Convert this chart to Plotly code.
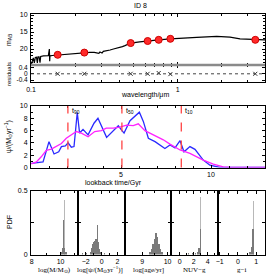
import plotly.graph_objects as go

# ---------------- data ----------------
phot_wl = [0.152, 0.231, 0.478, 0.624, 0.742, 0.891, 3.38]
phot_mag = [21.7, 21.05, 18.25, 17.65, 17.3, 17.0, 17.3]
resid = [0.0, 0.0, 0.0, 0.0, 0.05, -0.02, 0.0]

model_wl = [0.1005, 0.1021, 0.1037, 0.1054, 0.1070, 0.1090, 0.1105, 0.1116, 0.1135, 0.1152,
            0.1164, 0.1214, 0.1260, 0.1313, 0.1334, 0.1341, 0.1347, 0.1400, 0.152, 0.175,
            0.200, 0.231, 0.252, 0.270, 0.280, 0.290, 0.295, 0.305, 0.311, 0.325,
            0.346, 0.365, 0.384, 0.400, 0.420, 0.437, 0.450, 0.478, 0.55, 0.624,
            0.742, 0.891, 1.037, 1.348, 1.844, 2.273, 2.66, 3.36, 3.94]
model_mag = [24.6, 23.1, 22.6, 24.1, 22.5, 22.4, 24.1, 22.3, 22.3, 24.0,
             22.2, 22.0, 22.0, 21.95, 20.0, 23.6, 22.0, 21.9, 21.75, 21.5,
             21.3, 21.0, 21.0, 21.0, 21.2, 21.3, 20.9, 21.2, 20.7, 20.6,
             20.3, 20.0, 19.8, 19.5, 19.3, 19.0, 18.7, 18.25, 17.9, 17.6,
             17.3, 17.0, 16.8, 16.6, 16.3, 16.5, 17.0, 17.3, 17.3]

sfh_t = [0.02, 0.67, 1.0, 1.28, 1.54, 1.69, 1.91, 2.06, 2.24, 2.39, 2.57, 2.7, 2.89, 3.17,
         3.5, 3.72, 4.2, 4.67, 4.85, 5.0, 5.17, 5.5, 6.02, 6.24, 6.52, 6.89, 7.44, 7.72,
         8.0, 8.28, 8.5, 8.83, 9.11, 9.57, 9.94, 10.5, 11.06, 13.0]
sfh_true = [0.66, 0.92, 4.2, 2.2, 2.56, 3.4, 3.5, 4.0, 3.3, 3.4, 8.95, 5.6, 6.2, 5.3,
            7.2, 8.0, 4.9, 6.4, 6.8, 6.2, 5.6, 7.6, 9.0, 7.5, 4.75, 4.2, 3.1, 3.65,
            3.2, 4.36, 2.56, 3.4, 2.95, 1.2, 0.38, 0.0, 0.0, 0.0]
fit_t = [0.02, 0.3, 0.57, 0.85, 1.13, 1.41, 1.69, 1.96, 2.24, 2.52, 2.8, 3.17, 3.54, 3.91,
         4.18, 4.57, 4.94, 5.31, 5.68, 5.96, 6.33, 6.8, 7.35, 7.72, 8.28, 8.83, 9.57,
         10.13, 10.68, 11.06, 13.0]
sfh_fit = [0.6, 0.9, 1.74, 2.8, 3.0, 3.4, 3.9, 4.75, 5.3, 5.85, 5.6, 5.0, 5.85, 6.0,
           6.4, 6.4, 6.56, 6.9, 6.8, 7.1, 6.0, 5.3, 4.5, 3.8, 2.85, 2.3, 1.2,
           0.54, 0.1, 0.0, 0.0]
t_marks = [2.05, 5.05, 8.35]
t_names = ["t<sub>90</sub>", "t<sub>50</sub>", "t<sub>10</sub>"]

mass_bins = [10.1, 10.17, 10.24, 10.31, 10.38]
mass_pdf = [0.02, 0.05, 0.27, 0.05, 0.02]
mass_peak_x, mass_peak_y = [10.3], [0.43]

sfr_bins = [-2.4, -1.9, -1.45, -1.3, -1.15, -1.0, -0.85, -0.7, -0.55, -0.4, -0.25, -0.1, 0.4]
sfr_pdf = [0.01, 0.01, 0.02, 0.05, 0.08, 0.1, 0.11, 0.12, 0.23, 0.1, 0.04, 0.02, 0.01]

age_bins = [9.3, 9.36, 9.42, 9.48, 9.54, 9.6, 9.66, 9.72, 9.78]
age_pdf = [0.02, 0.04, 0.08, 0.12, 0.17, 0.14, 0.08, 0.04, 0.02]

nuvg_bins = [1.3, 1.8, 2.2, 2.55, 2.75, 2.9]
nuvg_pdf = [0.01, 0.01, 0.01, 0.02, 0.05, 0.2]
nuvg_peak_x, nuvg_peak_y = [3.0], [0.45]

gi_bins = [0.66, 0.74, 0.82]
gi_pdf = [0.02, 0.06, 0.2]
gi_peak_x, gi_peak_y = [0.87], [0.42]

# ---------------- layout helpers ----------------
W, H = 266, 274
def fx(x): return x / W
def fy(y): return 1 - y / H

TF = dict(size=7, family="Liberation Sans", color="black")
def axis(domain, anchor, **kw):
    d = dict(domain=domain, anchor=anchor, showline=True, linecolor="black", linewidth=1,
             mirror="allticks", ticks="inside", ticklen=3, tickwidth=1, tickcolor="black",
             showgrid=False, zeroline=False, tickfont=TF, fixedrange=True, automargin=False,
             ticklabelstandoff=1)
    d.update(kw)
    return d

XD = [fx(31), fx(265)]
fig = go.Figure()

# SED
fig.add_trace(go.Scatter(x=model_wl, y=model_mag, mode="lines", line=dict(color="black", width=1.2),
                         xaxis="x", yaxis="y", showlegend=False, hoverinfo="skip"))
fig.add_trace(go.Scatter(x=phot_wl, y=phot_mag, mode="markers",
                         marker=dict(color="#ff2a2a", size=7, line=dict(color="#d00000", width=1)),
                         xaxis="x", yaxis="y", showlegend=False, hoverinfo="skip"))
fig.add_trace(go.Scatter(x=phot_wl, y=resid, mode="markers",
                         marker=dict(symbol="x-thin-open", size=4, color="#333333",
                                     line=dict(color="#333333", width=1)),
                         xaxis="x2", yaxis="y2", showlegend=False, hoverinfo="skip"))

# SFH
fig.add_trace(go.Scatter(x=sfh_t, y=sfh_true, mode="lines", line=dict(color="#2a2aff", width=1.3),
                         xaxis="x3", yaxis="y3", showlegend=False, hoverinfo="skip"))
fig.add_trace(go.Scatter(x=fit_t, y=sfh_fit, mode="lines", line=dict(color="#ff22ff", width=1.3),
                         xaxis="x3", yaxis="y3", showlegend=False, hoverinfo="skip"))

# PDFs
hists = [(mass_bins, mass_pdf, 0.07, mass_peak_x, mass_peak_y),
         (sfr_bins, sfr_pdf, 0.15, [], []),
         (age_bins, age_pdf, 0.06, [], []),
         (nuvg_bins, nuvg_pdf, 0.15, nuvg_peak_x, nuvg_peak_y),
         (gi_bins, gi_pdf, 0.07, gi_peak_x, gi_peak_y)]
for i, (bx, by, w, pxs, pys) in enumerate(hists):
    n = i + 4
    if pxs:
        fig.add_trace(go.Bar(x=pxs, y=pys, width=w * 0.8, marker=dict(color="#b8b8b8", line=dict(width=0)),
                             xaxis=f"x{n}", yaxis=f"y{n}", showlegend=False, hoverinfo="skip"))
    fig.add_trace(go.Bar(x=bx, y=by, width=w, marker=dict(color="#7a7a7a", line=dict(width=0)),
                         xaxis=f"x{n}", yaxis=f"y{n}", showlegend=False, hoverinfo="skip"))

lay = dict(template="none", width=W, height=H, margin=dict(l=0, r=0, t=0, b=0, pad=0),
           plot_bgcolor="white", paper_bgcolor="white", barmode="overlay", bargap=0,
           showlegend=False)

minor_log = dict(tickvals=[0.2, 0.3, 0.4, 0.5, 0.6, 0.7, 0.8, 0.9, 2, 3], ticks="inside", ticklen=2,
                 tickcolor="black", showgrid=False)
lay["xaxis"] = axis(XD, "y", type="log", range=[-1, 0.595], tickvals=[0.1, 1], showticklabels=False,
                    minor=minor_log)
lay["yaxis"] = axis([fy(65), fy(14)], "x", range=[24.7, 9.7], tickvals=[10, 15, 20],
                    minor=dict(dtick=1, ticks="inside", ticklen=2, tickcolor="black", showgrid=False))
lay["xaxis2"] = axis(XD, "y2", type="log", range=[-1, 0.595], tickvals=[0.1, 1], ticktext=["0.1", "1"],
                     minor=minor_log)
lay["yaxis2"] = axis([fy(82), fy(65)], "x2", range=[-0.52, 0.56], tickvals=[-0.4, 0, 0.4],
                     ticktext=["-0.4", "0", "0.4"],
                     tickfont=dict(size=6.5, family="Liberation Sans", color="black"))
lay["xaxis3"] = axis(XD, "y3", range=[0, 13], tickvals=[5, 10], ticklabelstandoff=0,
                     minor=dict(dtick=1, ticks="inside", ticklen=2, tickcolor="black", showgrid=False))
lay["yaxis3"] = axis([fy(167.5), fy(106)], "x3", range=[0, 10], tickvals=[0, 2, 4, 6, 8, 10],
                     minor=dict(dtick=1, ticks="inside", ticklen=2, tickcolor="black", showgrid=False))

edges = [31, 77.8, 124.6, 171.4, 218.2, 265]
xr = [[7.95, 11.2], [-3.0, 2.9], [8.3, 10.15], [-1.2, 5.5], [-1.08, 1.48]]
xt = [[8, 10], [-2, 0, 2], [9, 10], [0, 2, 4], [-1, 0, 1]]
xm = [[9, 11], [-1, 1], [9.5], [1, 3, 5], [-0.5, 0.5]]
for i in range(5):
    n = i + 4
    lay[f"xaxis{n}"] = axis([fx(edges[i]), fx(edges[i + 1])], f"y{n}", range=xr[i], tickvals=xt[i],
                            ticktext=[str(v).replace("-", "−") for v in xt[i]], ticklabelstandoff=0,
                            minor=dict(tickvals=xm[i], ticks="inside", ticklen=2, tickcolor="black",
                                       showgrid=False))
    lay[f"yaxis{n}"] = axis([fy(254.5), fy(191)], f"x{n}", range=[0, 0.5], tickvals=[0, 0.25, 0.5],
                            ticktext=["0", "", "0.5"], showticklabels=(i == 0))

ann = []
def A(text, x, y, size=7, angle=0, family="Liberation Sans", **kw):
    d = dict(text=text, x=fx(x), y=fy(y), xref="paper", yref="paper", showarrow=False,
             font=dict(size=size, family=family, color="black"), textangle=angle,
             xanchor="center", yanchor="middle")
    d.update(kw)
    ann.append(d)

A("ID 8", 140, 5)
A("m<sub>AB</sub>", 9, 40, angle=-90)
A("residuals", 9, 74, size=6, angle=-90)
A("wavelength/μm", 145, 95)
A("ψ/(M<sub>⊙</sub>yr<sup>−1</sup>)", 8, 137, angle=-90)
A("lookback time/Gyr", 113, 182.5)
A("PDF", 9, 222, angle=-90)
SER = "Liberation Serif"
A("log(M/M<sub>⊙</sub>)", 54, 269.5, family=SER)
A("log[ψ/(M<sub>⊙</sub>yr<sup>−1</sup>)]", 100, 269.5, family=SER)
A("log[age/yr]", 148, 269.5, family=SER)
A("NUV−g", 194, 269.5, family=SER)
A("g−i", 241, 269.5, family=SER)
for t, name in zip(t_marks, t_names):
    ann.append(dict(text=name, x=t + 0.1, y=9.2, xref="x3", yref="y3", showarrow=False,
                    xanchor="left", yanchor="middle",
                    font=dict(size=7, family="Liberation Sans", color="black")))
lay["annotations"] = ann

shapes = [dict(type="line", xref="x2 domain", yref="y2", x0=0, x1=1, y0=0, y1=0,
               line=dict(color="#444444", width=1, dash="dot")),
          dict(type="line", xref="paper", yref="paper", x0=fx(31), x1=fx(265), y0=fy(65), y1=fy(65),
               line=dict(color="#8a8a8a", width=2.5))]
for t in t_marks:
    shapes.append(dict(type="line", xref="x3", yref="y3 domain", x0=t, x1=t, y0=0, y1=1,
                       line=dict(color="#ff4444", width=1.3, dash="dash")))
lay["shapes"] = shapes

fig.update_layout(**lay)
fig.write_html("out.html", config={"displayModeBar": False, "staticPlot": True},
               post_script="document.body.style.margin='0';document.body.style.padding='0';")
